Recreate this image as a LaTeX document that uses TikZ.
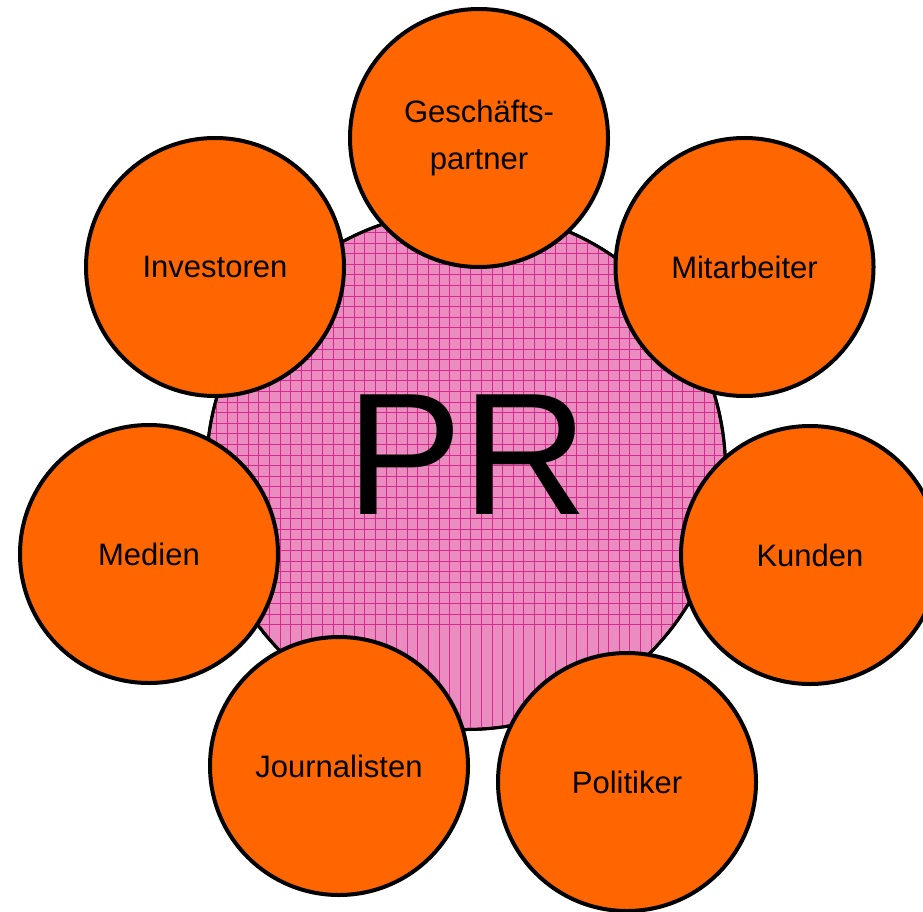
\documentclass[tikz,border=0pt]{standalone}
\usepackage{fontspec}
\setmainfont{Liberation Sans}
\definecolor{orangefill}{RGB}{255,102,0}
\definecolor{pinkfill}{RGB}{234,140,192}
\definecolor{pinkgrid}{RGB}{214,42,142}
\tikzset{
  stake/.style={circle, draw=black, line width=4pt, fill=orangefill,
    minimum size=258pt, inner sep=0pt, align=center,
    font=\fontsize{31}{47}\selectfont},
  prcircle/.style={circle, draw=black, line width=3pt, fill=pinkfill,
    minimum size=519pt, inner sep=0pt},
  gridline/.style={draw=pinkgrid, line width=1.1pt}
}
\begin{document}
\begin{tikzpicture}[x=1pt,y=-1pt]
\useasboundingbox (0,0) rectangle (923,912);
\node[prcircle] (pr) at (466,470) {};
\begin{scope}
  \clip (466,470) circle (259.5pt);
  \foreach \i in {-25,...,30} {
    \draw[gridline] ({407.3+10.6*\i},180) -- ({407.3+10.6*\i},760);
    \draw[gridline] (180,{306.7+10.6*\i}) -- (760,{306.7+10.6*\i});
  }
\end{scope}
\draw[black, line width=3pt] (pr.center) circle (259.5pt);
\node[font=\fontsize{174}{174}\selectfont, inner sep=0pt] (prtext) at (467,455) {PR};
\node[stake] (gp) at (479,138) {Geschäfts-\\partner};
\node[stake] (ma) at (744.5,267) {Mitarbeiter};
\node[stake] (inv) at (215,267) {Investoren};
\node[stake] (med) at (149,554) {Medien};
\node[stake] (kun) at (810,555) {Kunden};
\node[stake] (jou) at (339,766) {Journalisten};
\node[stake] (pol) at (627,782) {Politiker};
\end{tikzpicture}
\end{document}
